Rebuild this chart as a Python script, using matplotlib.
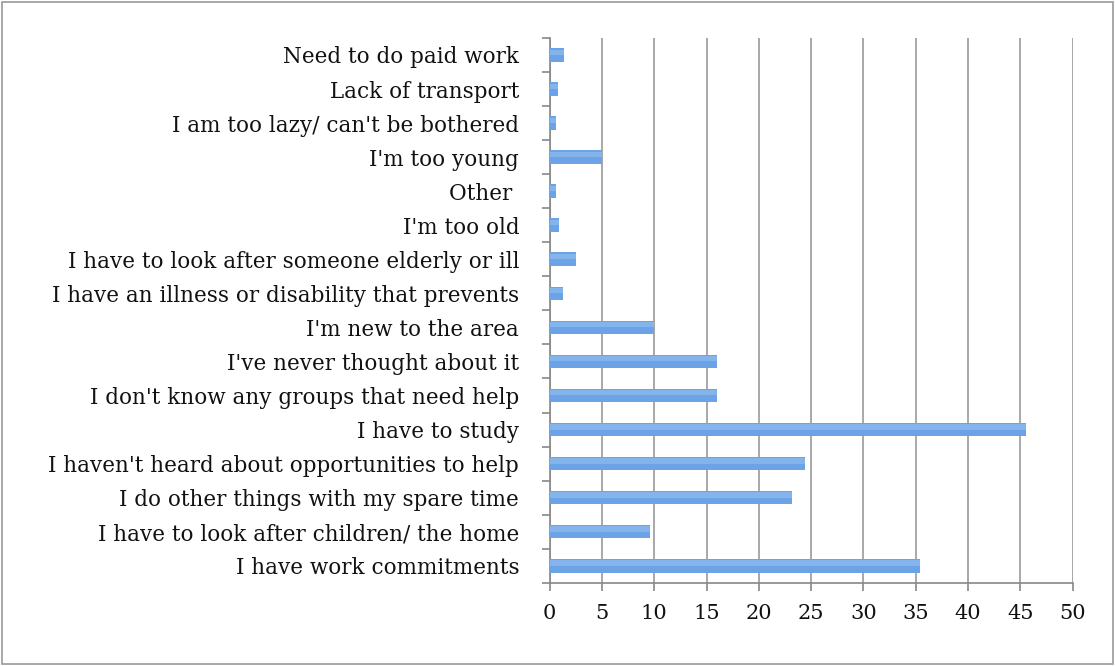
import matplotlib.pyplot as plt
import matplotlib.patches as mpatches
import numpy as np

# === data (bottom to top as drawn) ===
reasons = [
    "I have work commitments",
    "I have to look after children/ the home",
    "I do other things with my spare time",
    "I haven't heard about opportunities to help",
    "I have to study",
    "I don't know any groups that need help",
    "I've never thought about it",
    "I'm new to the area",
    "I have an illness or disability that prevents",
    "I have to look after someone elderly or ill",
    "I'm too old",
    "Other ",
    "I'm too young",
    "I am too lazy/ can't be bothered",
    "Lack of transport",
    "Need to do paid work",
]
counts = [35.4, 9.6, 23.2, 24.4, 45.5, 16.0, 16.0, 10.0,
          1.3, 2.5, 0.9, 0.6, 5.0, 0.6, 0.8, 1.35]
x_ticks = [0, 5, 10, 15, 20, 25, 30, 35, 40, 45, 50]

plt.rcParams['font.family'] = ['DejaVu Serif']

fig = plt.figure(figsize=(11.15, 6.66), dpi=100)
ax = fig.add_axes([0.493, 0.125, 0.469, 0.818])

y = np.arange(len(reasons))
ax.barh(y, counts, height=0.4, color='#6ba3e6', linewidth=0, zorder=3)
# soft lighter top half to hint at the glossy bars
ax.barh(y + 0.08, counts, height=0.16, color='#8bb9ee', linewidth=0,
        alpha=0.8, zorder=4)

ax.set_xlim(0, 50)
ax.set_ylim(-0.5, len(reasons) - 0.5)
ax.set_xticks(x_ticks)
ax.set_xticklabels([str(t) for t in x_ticks], fontsize=15)
ax.set_yticks(y)
ax.set_yticklabels(reasons, fontsize=15.5)
ax.tick_params(axis='y', length=0, pad=22, labelcolor='#111111')
ax.tick_params(axis='x', length=6, color='#888888', pad=9, width=1.2,
               labelcolor='#111111')

# category boundary ticks on the left spine
ax.set_yticks(np.arange(-0.5, len(reasons)), minor=True)
ax.tick_params(axis='y', which='minor', length=6, color='#888888', width=1.2)

ax.grid(axis='x', color='#999999', linewidth=1.2, zorder=0)
for side in ['top', 'right']:
    ax.spines[side].set_visible(False)
for side in ['left', 'bottom']:
    ax.spines[side].set_color('#888888')
    ax.spines[side].set_linewidth(1.2)

# outer frame
fig.patches.append(mpatches.Rectangle((0.002, 0.003), 0.996, 0.994,
                                      transform=fig.transFigure, fill=False,
                                      edgecolor='#999999', linewidth=1.2))

plt.savefig("out.png", dpi=100)
